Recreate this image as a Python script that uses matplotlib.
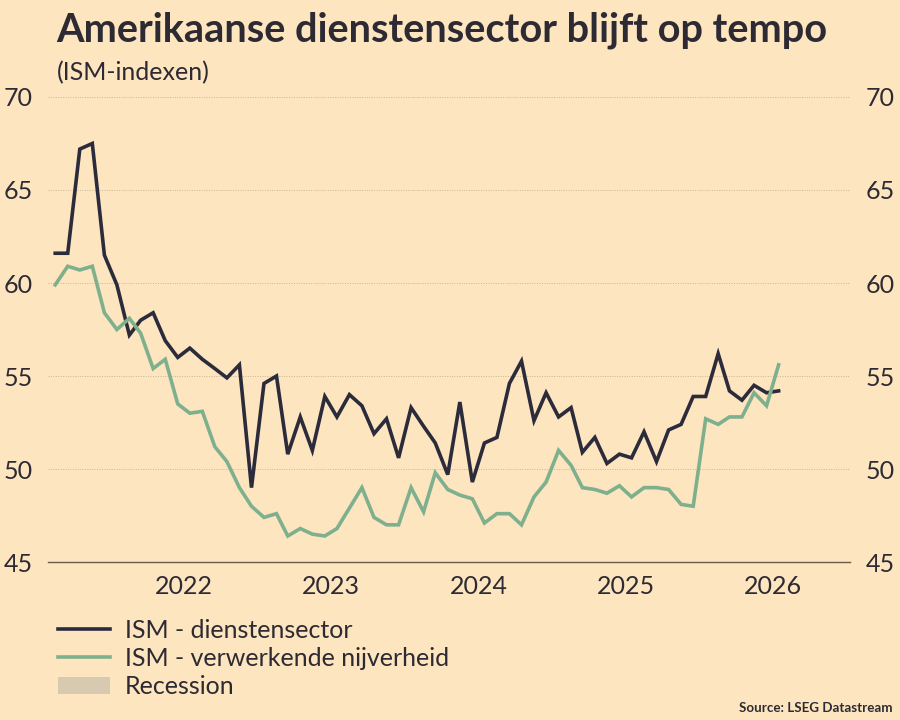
import numpy as np
import pandas as pd
import matplotlib
matplotlib.use('Agg')
import matplotlib.pyplot as plt
from matplotlib.lines import Line2D
from matplotlib.patches import Patch

# maandelijkse ISM-indexen, aug 2021 t/m jul 2026
months = pd.date_range('2021-08-01', periods=60, freq='MS') + pd.Timedelta(days=14)

ism_services = [
    61.6, 61.6, 67.2, 67.5, 61.5, 59.9, 57.2, 58.0, 58.4, 56.9,
    56.0, 56.5, 55.9, 55.4, 54.9, 55.6, 49.0, 54.6, 55.0, 50.8,
    52.8, 51.0, 53.9, 52.8, 54.0, 53.4, 51.9, 52.7, 50.6, 53.3,
    52.3, 51.4, 49.7, 53.6, 49.3, 51.4, 51.7, 54.6, 55.8, 52.6,
    54.1, 52.8, 53.3, 50.9, 51.7, 50.3, 50.8, 50.6, 52.0, 50.4,
    52.1, 52.4, 53.9, 53.9, 56.2, 54.2, 53.7, 54.5, 54.1, 54.2,
]
ism_manufacturing = [
    59.9, 60.9, 60.7, 60.9, 58.4, 57.5, 58.1, 57.3, 55.4, 55.9,
    53.5, 53.0, 53.1, 51.2, 50.4, 49.0, 48.0, 47.4, 47.6, 46.4,
    46.8, 46.5, 46.4, 46.8, 47.9, 49.0, 47.4, 47.0, 47.0, 49.0,
    47.7, 49.8, 48.9, 48.6, 48.4, 47.1, 47.6, 47.6, 47.0, 48.5,
    49.3, 51.0, 50.2, 49.0, 48.9, 48.7, 49.1, 48.5, 49.0, 49.0,
    48.9, 48.1, 48.0, 52.7, 52.4, 52.8, 52.8, 54.1, 53.4, 55.6,
]
year_labels = ['2022', '2023', '2024', '2025', '2026']
y_ticks = [45, 50, 55, 60, 65, 70]

BG = '#fce5bf'
INK = '#2d2a33'
NAVY = '#2b2b3b'
GREEN = '#7fb08e'
RECESSION = '#d8cab0'
GRID = '#c8b596'

plt.rcParams['font.family'] = ['Lato', 'DejaVu Sans']
plt.rcParams['text.color'] = INK

fig = plt.figure(figsize=(9, 7.2), dpi=100, facecolor=BG)
ax = fig.add_axes([0.0533, 0.2194, 0.8911, 0.6459], facecolor=BG)

ax.plot(months, ism_services, color=NAVY, linewidth=2.6, solid_joinstyle='miter')
ax.plot(months, ism_manufacturing, color=GREEN, linewidth=2.6, solid_joinstyle='miter')

ax.set_ylim(45, 70)
ax.set_xlim(pd.Timestamp('2021-07-28'), pd.Timestamp('2027-01-08'))
ax.set_yticks(y_ticks)
ax.set_xticks(pd.to_datetime([f'{y}-07-01' for y in year_labels]))
ax.set_xticklabels(year_labels)

# stippellijnen per 5 punten
ax.grid(axis='y', color=GRID, linestyle=(0, (1, 1.5)), linewidth=0.7)
ax.grid(axis='x', visible=False)
ax.set_axisbelow(True)

for side in ['top', 'left', 'right']:
    ax.spines[side].set_visible(False)
ax.spines['bottom'].set_color('#6b5a48')
ax.spines['bottom'].set_linewidth(1.0)

ax.tick_params(axis='y', length=0, labelsize=18, labelcolor=INK,
               labelleft=True, labelright=True, pad=11)
ax.tick_params(axis='x', length=0, labelsize=18, labelcolor=INK, pad=9)

# titel en ondertitel
fig.text(0.063, 0.958, 'Amerikaanse dienstensector blijft op tempo',
         fontsize=28.6, fontweight='bold', va='center', ha='left', color=INK)
fig.text(0.063, 0.899, '(ISM-indexen)', fontsize=18, va='center', ha='left', color=INK)

handles = [
    Line2D([], [], color=NAVY, linewidth=2.6),
    Line2D([], [], color=GREEN, linewidth=2.6),
    Patch(facecolor=RECESSION, edgecolor='none'),
]
labels = ['ISM - dienstensector', 'ISM - verwerkende nijverheid', 'Recession']
fig.legend(handles, labels, loc='upper left', bbox_to_anchor=(0.064, 0.14),
           frameon=False, fontsize=18, handlelength=2.1, handleheight=0.7,
           handletextpad=0.6, labelspacing=0.2, borderaxespad=0, borderpad=0)

fig.text(0.992, 0.016, 'Source: LSEG Datastream', fontsize=9.6, fontweight='bold',
         ha='right', va='center', color=INK)

fig.savefig('out.png', dpi=100, facecolor=BG)
